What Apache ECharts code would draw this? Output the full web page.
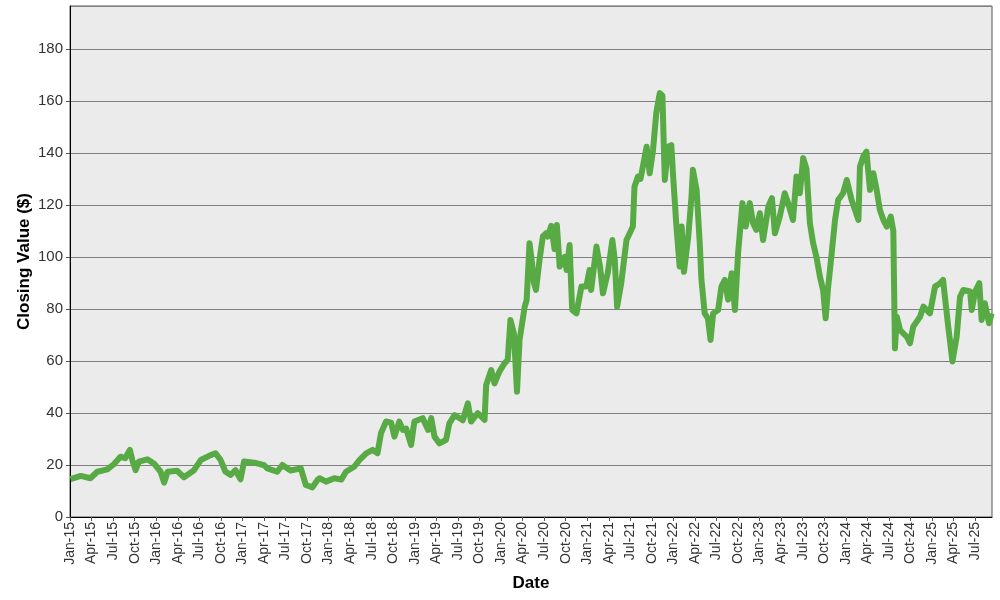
<!DOCTYPE html>
<html>
<head>
<meta charset="utf-8">
<script src="https://cdn.jsdelivr.net/npm/echarts@6/dist/echarts.min.js"></script>
<style>
html,body{margin:0;padding:0;background:#fff;}
#chart{width:1000px;height:600px;}
</style>
</head>
<body>
<div id="chart"></div>
<script>
// Closing values
const dates = [
"2015-01-03","2015-02-15","2015-03-27","2015-04-25","2015-06-07","2015-07-05","2015-08-02","2015-08-22","2015-09-11","2015-09-21",
"2015-10-05","2015-10-19","2015-11-24","2015-12-22","2016-01-20","2016-02-04","2016-02-18","2016-03-29","2016-04-27","2016-06-09",
"2016-07-07","2016-08-19","2016-09-09","2016-09-30","2016-10-21","2016-11-12","2016-12-02","2016-12-24","2017-01-08","2017-02-20",
"2017-04-02","2017-04-15","2017-05-27","2017-06-18","2017-07-23","2017-09-05","2017-09-26","2017-10-24","2017-11-14","2017-11-23",
"2017-12-21","2018-01-25","2018-02-23","2018-03-14","2018-04-19","2018-05-10","2018-06-08","2018-07-05","2018-07-26","2018-08-10",
"2018-09-01","2018-09-22","2018-10-06","2018-10-27","2018-11-11","2018-11-25","2018-12-16","2018-12-30","2019-02-04","2019-02-25",
"2019-03-10","2019-03-24","2019-04-14","2019-05-12","2019-05-26","2019-06-17","2019-07-22","2019-08-13","2019-08-27","2019-09-24",
"2019-10-23","2019-10-30","2019-11-20","2019-12-04","2019-12-25","2020-01-16","2020-01-30","2020-02-10","2020-02-24","2020-03-08",
"2020-03-19","2020-04-10","2020-04-18","2020-04-30","2020-05-09","2020-05-19","2020-05-28","2020-06-12","2020-06-26","2020-07-10",
"2020-07-17","2020-08-01","2020-08-15","2020-08-25","2020-09-06","2020-09-27","2020-10-05","2020-10-18","2020-10-29","2020-11-16",
"2020-12-07","2020-12-28","2021-01-11","2021-01-18","2021-02-09","2021-02-23","2021-03-07","2021-03-14","2021-03-28","2021-04-16",
"2021-04-26","2021-05-06","2021-05-24","2021-06-15","2021-06-28","2021-07-12","2021-07-19","2021-08-03","2021-08-14","2021-08-24",
"2021-09-09","2021-09-22","2021-10-06","2021-10-20","2021-11-04","2021-11-15","2021-11-25","2021-12-09","2021-12-23","2021-12-30",
"2022-01-14","2022-01-28","2022-02-05","2022-02-14","2022-03-03","2022-03-17","2022-03-23","2022-04-08","2022-04-21","2022-04-28",
"2022-05-12","2022-05-26","2022-06-06","2022-06-17","2022-07-08","2022-07-22","2022-08-06","2022-08-20","2022-09-04","2022-09-18",
"2022-10-01","2022-10-20","2022-11-03","2022-11-20","2022-12-04","2022-12-18","2023-01-02","2023-01-16","2023-02-07","2023-02-21",
"2023-03-05","2023-03-26","2023-04-16","2023-04-30","2023-05-21","2023-06-05","2023-06-19","2023-07-03","2023-07-17","2023-08-01",
"2023-08-15","2023-08-29","2023-09-13","2023-09-26","2023-10-07","2023-10-18","2023-11-02","2023-11-16","2023-11-29","2023-12-20",
"2024-01-05","2024-01-26","2024-02-23","2024-02-29","2024-03-14","2024-03-28","2024-04-12","2024-04-26","2024-05-10","2024-05-24",
"2024-06-08","2024-06-22","2024-07-09","2024-07-20","2024-07-27","2024-08-04","2024-08-18","2024-09-16","2024-09-29","2024-10-13",
"2024-11-11","2024-11-25","2024-12-23","2025-01-14","2025-02-05","2025-02-16","2025-02-26","2025-03-09","2025-03-16","2025-03-27",
"2025-04-14","2025-04-28","2025-05-12","2025-06-10","2025-06-17","2025-07-01","2025-07-19","2025-07-29","2025-08-12","2025-08-30",
"2025-09-10"
];
const closes = [
14.6,15.8,14.9,17.4,18.3,20.4,23.2,22.6,25.8,22.0,
18.0,21.3,22.2,20.6,17.4,13.2,17.4,17.8,15.3,18.0,
21.9,23.8,24.5,21.9,17.4,16.2,18.0,14.5,21.3,20.9,
19.9,18.7,17.4,20.0,17.9,18.7,12.3,11.4,14.2,14.9,
13.6,14.9,14.4,17.4,19.4,21.9,24.5,25.8,24.5,32.2,
36.7,36.3,30.9,36.7,33.5,34.0,27.7,36.7,38.0,33.5,
38.0,30.9,28.3,29.7,36.0,39.2,37.2,43.7,36.7,39.9,
37.3,50.8,56.5,51.4,55.9,59.1,60.4,75.8,70.6,48.2,
68.0,80.9,83.4,105.3,99.0,90.0,87.3,99.0,108.0,109.1,
107.8,112.0,103.0,112.3,96.3,100.0,95.0,104.6,79.6,78.3,
88.6,88.6,95.0,87.3,104.0,96.3,86.0,85.4,94.0,106.5,
99.0,80.9,90.0,106.5,109.0,111.7,127.0,130.9,130.0,134.7,
142.4,132.2,141.1,155.3,163.0,162.0,129.6,142.4,143.0,132.2,
111.7,96.3,111.7,94.3,107.8,123.2,133.5,125.6,105.3,91.2,
78.3,76.4,68.1,78.3,79.6,88.6,91.2,83.6,93.7,79.6,
101.4,120.7,111.7,120.7,113.0,110.4,116.8,106.5,119.4,122.6,
109.1,115.5,124.5,120.7,114.2,130.9,124.5,138.0,134.0,113.0,
105.3,100.1,92.4,87.3,76.4,88.6,101.4,114.2,121.9,124.5,
129.6,121.9,114.2,134.7,138.6,140.5,125.8,132.2,125.8,118.1,
114.2,111.7,115.5,110.0,64.9,77.0,71.9,69.3,66.8,73.2,
77.0,80.9,78.3,88.6,89.9,91.2,82.2,73.2,68.1,59.8,
69.3,84.7,87.3,86.7,79.6,86.7,89.9,75.8,82.2,74.5,
78.3
];
const monthNames = ["Jan","Feb","Mar","Apr","May","Jun","Jul","Aug","Sep","Oct","Nov","Dec"];
const yTicks = [0,20,40,60,80,100,120,140,160,180];

const startYear = 2015;
function monthIndex(s){
  const p = s.split("-").map(Number);
  const dim = new Date(p[0], p[1], 0).getDate();
  return (p[0]-startYear)*12 + (p[1]-1) + (p[2]-1)/dim;
}
const seriesData = dates.map((d,i)=>[monthIndex(d), closes[i]]);

const chart = echarts.init(document.getElementById('chart'), null, {renderer:'canvas'});
const font = '"Liberation Sans", Arial, sans-serif';
chart.setOption({
  animation:false,
  backgroundColor:'#ffffff',
  grid:{left:70,right:8,top:6,bottom:83,show:true,backgroundColor:'#ebebeb',borderColor:'#555555',borderWidth:1},
  xAxis:{
    type:'value',min:0,max:128.35,interval:3,
    name:'Date',nameLocation:'middle',nameGap:58,
    nameTextStyle:{fontFamily:font,fontSize:17,fontWeight:'bold',color:'#000'},
    axisLine:{show:true,onZero:false,lineStyle:{color:'#000',width:1}},
    axisTick:{show:true,length:4,lineStyle:{color:'#555'}},
    splitLine:{show:false},
    axisLabel:{
      rotate:90,margin:5,fontFamily:font,fontSize:14,color:'#333',
      showMaxLabel:false,
      formatter:function(v){
        const m = Math.round(v);
        if (Math.abs(v-m)>1e-6 || m%3!==0) return '';
        const y = startYear + Math.floor(m/12);
        return monthNames[m%12] + '-' + String(y).slice(2);
      }
    }
  },
  yAxis:{
    type:'value',min:0,max:196.5,interval:20,
    name:'Closing Value ($)',nameLocation:'middle',nameGap:37,nameRotate:90,nameMoveOverlap:false,
    nameTextStyle:{fontFamily:font,fontSize:17,fontWeight:'bold',color:'#000'},
    axisLine:{show:true,lineStyle:{color:'#000',width:1}},
    axisTick:{show:true,length:4,lineStyle:{color:'#555'}},
    splitLine:{show:true,lineStyle:{color:'#808080',width:1}},
    axisLabel:{
      margin:7,fontFamily:font,fontSize:15,color:'#333',showMaxLabel:false,
      formatter:function(v){ return yTicks.indexOf(v)>=0 ? String(v) : ''; }
    }
  },
  series:[{
    type:'line',data:seriesData,showSymbol:false,symbol:'none',
    lineStyle:{color:'#58aa44',width:6,join:'round'},
    clip:true
  }]
});
</script>
</body>
</html>
